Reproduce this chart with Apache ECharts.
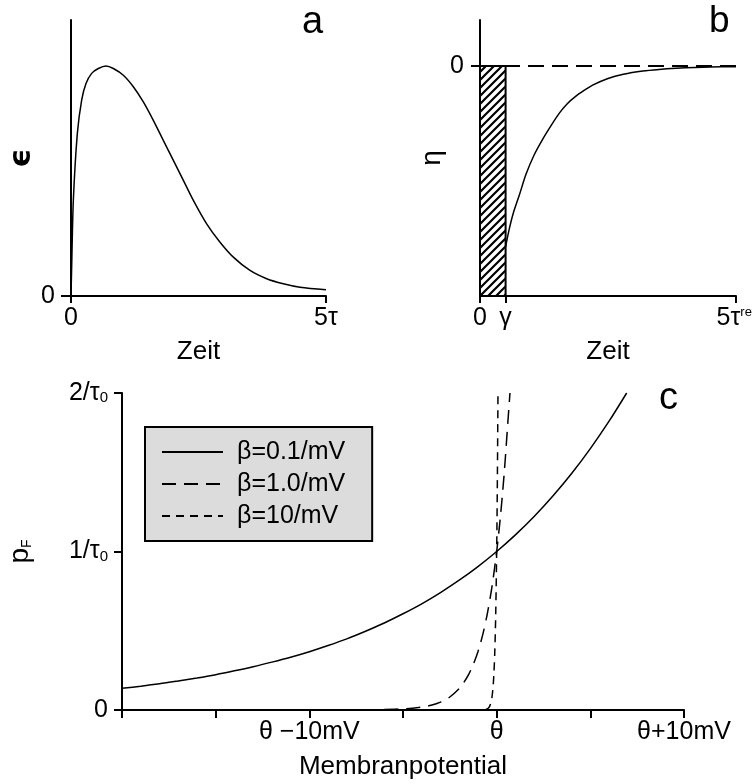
<!DOCTYPE html>
<html>
<head>
<meta charset="utf-8">
<script src="https://cdn.jsdelivr.net/npm/echarts@6/dist/echarts.min.js"></script>
<style>
  html, body { margin: 0; padding: 0; background: #fff; }
  #chart { width: 752px; height: 784px; }
</style>
</head>
<body>
<div id="chart"></div>
<script>
// Panel a: postsynaptic potential kernel epsilon over time (units of tau)
const epsTime = [0, 0.013, 0.046, 0.124, 0.209, 0.294, 0.405, 0.536, 0.686, 0.83, 1.026, 1.222, 1.418, 1.614, 1.81, 2.007, 2.203, 2.399, 2.66, 2.922, 3.183, 3.51, 3.837, 4.163, 4.49, 5.0];
const epsValue = [0, 0.126, 0.416, 0.706, 0.852, 0.924, 0.968, 0.989, 1.0, 0.989, 0.96, 0.91, 0.844, 0.764, 0.677, 0.59, 0.503, 0.416, 0.314, 0.234, 0.169, 0.111, 0.075, 0.053, 0.038, 0.027];

// Panel b: refractory kernel eta, absolute refractory period gamma
const gamma = 0.5;
const etaTime = [0.5, 0.57, 0.65, 0.77, 0.9, 1.05, 1.22, 1.4, 1.55, 1.7, 1.88, 2.05, 2.2, 2.5, 2.8, 3.18, 3.5, 3.83, 4.2, 4.5, 5.0];
const etaValue = [-0.786, -0.71, -0.64, -0.56, -0.47, -0.39, -0.32, -0.255, -0.205, -0.165, -0.13, -0.104, -0.083, -0.054, -0.036, -0.022, -0.015, -0.01, -0.006, -0.004, -0.003];

// Panel c: firing rate p_F versus membrane potential (mV relative to theta)
const betaNames = ['β=0.1/mV', 'β=1.0/mV', 'β=10/mV'];
const uSlow = [-20, -19, -18, -17, -16, -15, -14, -13, -12, -11, -10, -9, -8, -7, -6, -5, -4, -3, -2, -1, 0, 1, 2, 3, 4, 5, 6, 6.94];
const pSlow = [0.137, 0.15, 0.165, 0.183, 0.202, 0.223, 0.247, 0.273, 0.302, 0.333, 0.368, 0.407, 0.449, 0.497, 0.549, 0.607, 0.67, 0.741, 0.819, 0.905, 1.0, 1.105, 1.221, 1.35, 1.492, 1.649, 1.822, 2.0];
const uMid = [-6, -5, -4.5, -4, -3.5, -3, -2.5, -2, -1.75, -1.5, -1.25, -1, -0.75, -0.5, -0.25, 0, 0.2, 0.4, 0.6, 0.71];
const pMid = [0.0025, 0.007, 0.011, 0.018, 0.03, 0.05, 0.082, 0.135, 0.174, 0.223, 0.287, 0.368, 0.472, 0.607, 0.779, 1.0, 1.22, 1.49, 1.82, 2.0];
const uFast = [-0.6, -0.5, -0.4, -0.3, -0.25, -0.2, -0.15, -0.1, -0.05, 0, 0.02, 0.04, 0.06, 0.07];
const pFast = [0.0025, 0.007, 0.018, 0.05, 0.082, 0.135, 0.223, 0.368, 0.607, 1.0, 1.22, 1.49, 1.82, 2.0];

// Tick labels
const timeTicksA = [0, 5];
const timeLabelsA = ['0', '5τ'];
const timeTicksB = [0, gamma, 5];
const timeLabelsB = ['0', 'γ', '5τ{sup|ref}'];
const uTicks = [-10, 0, 10];
const uLabels = ['θ −10mV', 'θ', 'θ+10mV'];
const rateTicks = [0, 1, 2];
const rateLabels = ['0', '1/τ{sub|0}', '2/τ{sub|0}'];

const FONT = 'Liberation Sans, Arial, Helvetica, sans-serif';
const FS = 25;

const pairs = (xs, ys) => xs.map((x, i) => [x, ys[i]]);
const lookup = (ticks, labels) => (v) => {
  const i = ticks.findIndex(t => Math.abs(t - v) < 1e-9);
  return i >= 0 ? labels[i] : '';
};

// diagonal hatch tile for the refractory bar
function hatchTile() {
  const c = document.createElement('canvas');
  c.width = 8; c.height = 8;
  const g = c.getContext('2d');
  g.fillStyle = '#fff';
  g.fillRect(0, 0, 8, 8);
  g.strokeStyle = '#000';
  g.lineWidth = 2.2;
  g.beginPath();
  g.moveTo(-2, 10); g.lineTo(10, -2);
  g.moveTo(-2, 2); g.lineTo(2, -2);
  g.moveTo(6, 10); g.lineTo(10, 6);
  g.stroke();
  return c;
}
const hatch = { image: hatchTile(), repeat: 'repeat' };

const axisLine = { show: true, onZero: false, lineStyle: { color: '#000', width: 2 } };
const tick = (vals, len) => ({ show: true, customValues: vals, length: len, lineStyle: { color: '#000', width: 2 } });
const labelStyle = { color: '#000', fontFamily: FONT, fontSize: FS };
const rich = {
  sub: { fontFamily: FONT, fontSize: 15, color: '#000', verticalAlign: 'bottom', lineHeight: 12 },
  sup: { fontFamily: FONT, fontSize: 13, color: '#000', verticalAlign: 'top', lineHeight: 12 }
};
const curve = { color: '#000', width: 1.5 };

const chart = echarts.init(document.getElementById('chart'), null, { renderer: 'canvas' });

chart.setOption({
  animation: false,
  backgroundColor: '#fff',
  color: ['#000'],
  grid: [
    { left: 71, top: 20, width: 255, height: 276, outerBoundsMode: 'none' },
    { left: 480, top: 20, width: 256, height: 276, outerBoundsMode: 'none' },
    { left: 122, top: 393, width: 562, height: 317, outerBoundsMode: 'none' }
  ],
  xAxis: [
    {
      gridIndex: 0, type: 'value', min: 0, max: 5,
      axisLine, axisTick: tick(timeTicksA, 7), splitLine: { show: false },
      axisLabel: { ...labelStyle, customValues: timeTicksA, margin: 10, formatter: lookup(timeTicksA, timeLabelsA) },
      name: 'Zeit', nameLocation: 'middle', nameGap: 43,
      nameTextStyle: { color: '#000', fontFamily: FONT, fontSize: 26 }
    },
    {
      gridIndex: 1, type: 'value', min: 0, max: 5,
      axisLine, axisTick: tick(timeTicksB, 7), splitLine: { show: false },
      axisLabel: { ...labelStyle, customValues: timeTicksB, margin: 10, rich, formatter: lookup(timeTicksB, timeLabelsB) },
      name: 'Zeit', nameLocation: 'middle', nameGap: 43,
      nameTextStyle: { color: '#000', fontFamily: FONT, fontSize: 26 }
    },
    {
      gridIndex: 2, type: 'value', min: -20, max: 10, interval: 5,
      axisLine, axisTick: { show: true, length: 8, lineStyle: { color: '#000', width: 2 } },
      splitLine: { show: false },
      axisLabel: { ...labelStyle, customValues: uTicks, margin: 10, formatter: lookup(uTicks, uLabels) },
      name: 'Membranpotential', nameLocation: 'middle', nameGap: 44,
      nameTextStyle: { color: '#000', fontFamily: FONT, fontSize: 26 }
    }
  ],
  yAxis: [
    {
      gridIndex: 0, type: 'value', min: 0, max: 1.2,
      axisLine, axisTick: tick([0], 10), splitLine: { show: false },
      axisLabel: { ...labelStyle, customValues: [0], margin: 16, formatter: () => '0' },
      name: 'ϵ', nameLocation: 'middle', nameGap: 31, nameRotate: 90,
      nameTextStyle: { color: '#000', fontFamily: 'DejaVu Sans', fontSize: 30, fontWeight: 'bold' }
    },
    {
      gridIndex: 1, type: 'value', min: -1, max: 0.2,
      axisLine, axisTick: tick([0], 9), splitLine: { show: false },
      axisLabel: { ...labelStyle, customValues: [0], margin: 16, formatter: () => '0' },
      name: 'η', nameLocation: 'middle', nameGap: 34, nameRotate: 90,
      nameTextStyle: { color: '#000', fontFamily: FONT, fontSize: 28 }
    },
    {
      gridIndex: 2, type: 'value', min: 0, max: 2, interval: 1,
      axisLine, axisTick: tick(rateTicks, 8), splitLine: { show: false },
      axisLabel: { ...labelStyle, customValues: rateTicks, margin: 14, rich, formatter: lookup(rateTicks, rateLabels) },
      name: 'p{sub|F}', nameLocation: 'middle', nameGap: 88, nameRotate: 90,
      nameTextStyle: { color: '#000', fontFamily: FONT, fontSize: 28, rich: {
        sub: { fontFamily: FONT, fontSize: 14, color: '#000', verticalAlign: 'bottom', lineHeight: 12 }
      } }
    }
  ],
  legend: {
    left: 145, top: 427,
    orient: 'vertical',
    selectedMode: false,
    data: betaNames,
    backgroundColor: '#dcdcdc',
    borderColor: '#000',
    borderWidth: 2,
    borderRadius: 0,
    padding: [12, 27, 12, 16],
    itemWidth: 61,
    itemHeight: 14,
    itemGap: 6,
    itemStyle: { opacity: 0 },
    textStyle: { color: '#000', fontFamily: FONT, fontSize: 25, lineHeight: 26, padding: [0, 0, 0, 9] }
  },
  graphic: [
    { type: 'text', left: 302, top: 4, style: { text: 'a', font: '38px ' + FONT, fill: '#000' } },
    { type: 'text', left: 709, top: 3, style: { text: 'b', font: '37px ' + FONT, fill: '#000' } },
    { type: 'text', left: 659, top: 380, style: { text: 'c', font: '38px ' + FONT, fill: '#000' } }
  ],
  series: [
    {
      name: 'epsilon', type: 'line', xAxisIndex: 0, yAxisIndex: 0,
      data: pairs(epsTime, epsValue), symbol: 'none', smooth: 0.3,
      lineStyle: curve
    },
    {
      name: 'refractory', type: 'custom', xAxisIndex: 1, yAxisIndex: 1,
      data: [[0, gamma, 0, -1]],
      renderItem: (params, api) => {
        const p0 = api.coord([api.value(0), api.value(2)]);
        const p1 = api.coord([api.value(1), api.value(3)]);
        return {
          type: 'rect',
          shape: { x: p0[0], y: p0[1], width: p1[0] - p0[0], height: p1[1] - p0[1] },
          style: { fill: hatch, stroke: '#000', lineWidth: 2 }
        };
      },
      z: 1
    },
    {
      name: 'zero', type: 'line', xAxisIndex: 1, yAxisIndex: 1,
      data: [[0, 0], [5, 0]], symbol: 'none',
      lineStyle: { color: '#000', width: 2, type: [16, 8] }, z: 3
    },
    {
      name: 'eta', type: 'line', xAxisIndex: 1, yAxisIndex: 1,
      data: pairs(etaTime, etaValue), symbol: 'none', smooth: 0.3,
      lineStyle: curve, z: 3
    },
    {
      name: betaNames[0], type: 'line', xAxisIndex: 2, yAxisIndex: 2,
      data: pairs(uSlow, pSlow), symbol: 'none', smooth: 0.3,
      lineStyle: { ...curve, type: 'solid' }
    },
    {
      name: betaNames[1], type: 'line', xAxisIndex: 2, yAxisIndex: 2,
      data: pairs(uMid, pMid), symbol: 'none', smooth: 0.3,
      lineStyle: { ...curve, type: [14, 8] }
    },
    {
      name: betaNames[2], type: 'line', xAxisIndex: 2, yAxisIndex: 2,
      data: pairs(uFast, pFast), symbol: 'none', smooth: 0.3,
      lineStyle: { ...curve, type: [8, 6] }
    }
  ]
});
</script>
</body>
</html>
